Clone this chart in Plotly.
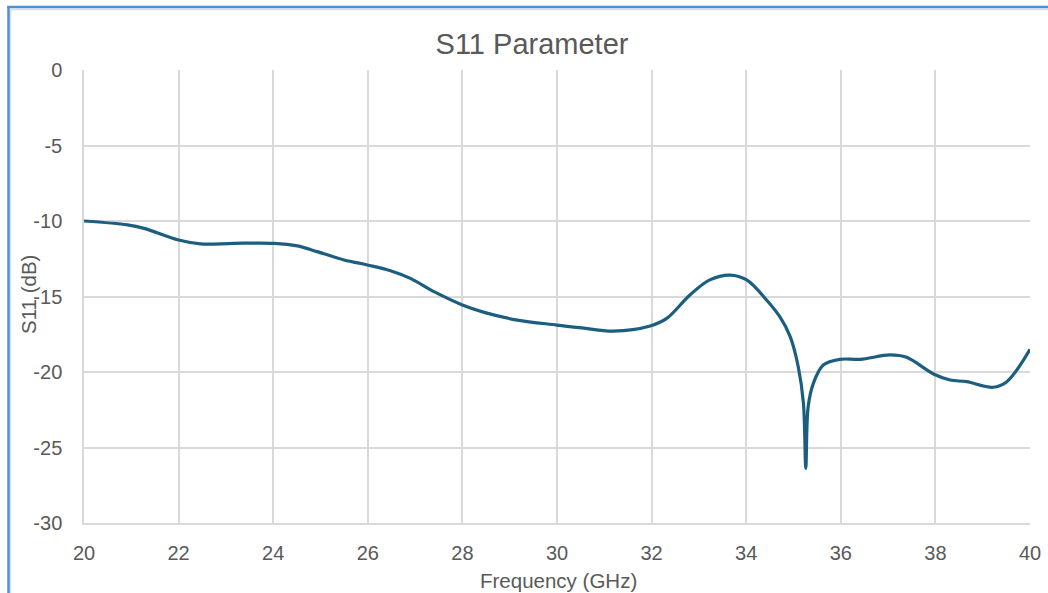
import plotly.graph_objects as go

# S11 sweep, frequency in GHz and return loss in dB
freq_ghz = [20.0, 20.92, 21.27, 22.0, 22.47, 23.17, 24.02, 24.51, 24.93, 25.5,
            25.99, 26.48, 26.9, 27.4, 28.0, 28.46, 29.16, 30.0, 30.57, 31.19,
            31.97, 32.32, 32.81, 33.23, 33.66, 34.01, 34.43, 34.71, 34.93, 35.1,
            35.21, 35.26, 35.31, 35.42, 35.63, 35.98, 36.41, 37.04, 37.39, 37.96,
            38.31, 38.66, 39.22, 39.51, 40.0]
s11_db = [-10.0, -10.26, -10.49, -11.26, -11.52, -11.48, -11.48, -11.65, -12.03, -12.58,
          -12.91, -13.29, -13.8, -14.68, -15.56, -16.05, -16.56, -16.89, -17.1, -17.29,
          -16.95, -16.45, -14.9, -13.9, -13.58, -13.9, -15.23, -16.34, -17.66, -19.65,
          -22.07, -26.38, -22.3, -20.75, -19.54, -19.16, -19.16, -18.87, -19.03, -20.13,
          -20.53, -20.64, -21.01, -20.64, -18.5]

x_ticks = [20, 22, 24, 26, 28, 30, 32, 34, 36, 38, 40]
y_ticks = [0, -5, -10, -15, -20, -25, -30]
y_tick_text = ["0", "-5", "-10", "-15", "-20", "-25", "-30"]

TEXT = "#595959"
GRID = "#d9d9d9"
FONT = "Liberation Sans"

fig = go.Figure()
fig.add_trace(go.Scatter(
    x=freq_ghz, y=s11_db, mode="lines",
    line=dict(color="#1b5e80", width=3.2, shape="spline", smoothing=1.0),
    hoverinfo="x+y", showlegend=False,
))

W, H = 1048, 593
L, R, T, B = 84, 18, 70, 70
pw, ph = W - L - R, H - T - B


def px(xp):
    return (xp - L) / pw


def py(yp):
    return (H - B - yp) / ph


fig.update_layout(
    width=W, height=H,
    margin=dict(l=L, r=R, t=T, b=B, autoexpand=False),
    paper_bgcolor="white", plot_bgcolor="white",
    font=dict(family=FONT, color=TEXT, size=20),
    title=dict(text="S11 Parameter", x=532 / W, xref="container", xanchor="center",
               y=1 - 44 / H, yref="container", yanchor="middle", automargin=False,
               font=dict(size=29, color=TEXT, family=FONT)),
    xaxis=dict(range=[20, 40], tickvals=x_ticks, showgrid=True, gridcolor=GRID, gridwidth=1.5,
               zeroline=False, showline=True, linecolor=GRID, linewidth=1.5, ticks="",
               tickfont=dict(size=20, color=TEXT, family=FONT), ticklabelstandoff=11,
               automargin=False),
    yaxis=dict(range=[-30, 0], tickvals=y_ticks, ticktext=y_tick_text, showgrid=True,
               gridcolor=GRID, gridwidth=1.5,
               zeroline=False, showline=True, linecolor=GRID, linewidth=1.5, ticks="",
               tickfont=dict(size=20, color=TEXT, family=FONT), ticklabelstandoff=16,
               automargin=False),
    annotations=[
        dict(text="Frequency (GHz)", x=px(558), y=py(580), xref="paper", yref="paper",
             showarrow=False, xanchor="center", yanchor="middle",
             font=dict(size=20.5, color=TEXT, family=FONT)),
        dict(text="S11 (dB)", x=px(28), y=py(295), xref="paper", yref="paper",
             showarrow=False, xanchor="center", yanchor="middle", textangle=-90,
             font=dict(size=20.5, color=TEXT, family=FONT)),
    ],
    shapes=[
        # chart area outline
        dict(type="line", xref="paper", yref="paper", x0=px(10.5), x1=px(10.5), y0=py(9.5), y1=py(600),
             line=dict(color="#dcdcdc", width=1.5)),
        dict(type="line", xref="paper", yref="paper", x0=px(10.5), x1=px(1060), y0=py(9.5), y1=py(9.5),
             line=dict(color="#dcdcdc", width=1.5)),
        # selection frame
        dict(type="line", xref="paper", yref="paper", x0=px(8.5), x1=px(8.5), y0=py(6), y1=py(600),
             line=dict(color="#4a90d9", width=2.5)),
        dict(type="line", xref="paper", yref="paper", x0=px(7.3), x1=px(1060), y0=py(7), y1=py(7),
             line=dict(color="#4a90d9", width=2.5)),
    ],
)

fig.write_html("out.html")
